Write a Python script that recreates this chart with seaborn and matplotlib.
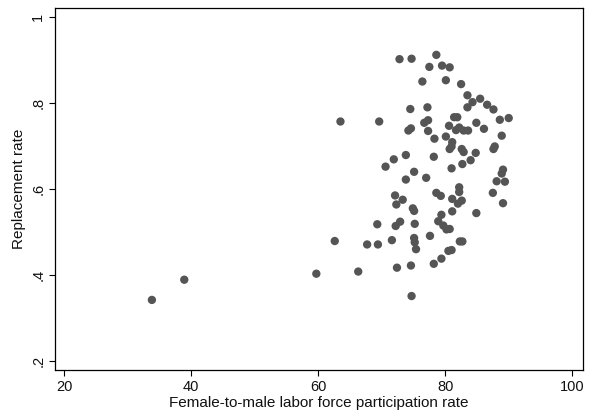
import matplotlib
matplotlib.use("Agg")
import matplotlib.pyplot as plt
import seaborn as sns
import pandas as pd

# Female-to-male labor force participation rate (x) vs replacement rate (y)
participation = [
    33.8, 38.9, 59.7, 62.6, 66.3, 63.5, 67.7, 69.4, 69.6, 69.3,
    70.6, 71.6, 71.9, 72.1, 72.2, 72.3, 72.4, 72.8, 72.9, 73.3,
    73.8, 73.8, 74.2, 74.6, 74.5, 74.7, 74.6, 74.7, 74.9, 75.1,
    75.1, 75.2, 75.1, 75.2, 75.4, 76.4, 76.7, 77.3, 77.3, 77.2,
    77.0, 77.5, 77.6, 78.2, 78.2, 78.3, 78.6, 78.6, 79.3, 78.9,
    79.4, 79.4, 79.5, 79.7, 80.2, 80.7, 80.1, 80.1, 80.6, 80.5,
    81.0, 80.7, 81.0, 81.1, 81.1, 81.1, 81.0, 80.7, 81.4, 81.9,
    81.7, 82.2, 82.9, 83.6, 82.2, 82.2, 82.3, 82.7, 82.5, 82.6,
    82.9, 82.7, 82.6, 82.0, 83.5, 83.5, 84.0, 84.3, 84.9, 84.8,
    84.9, 85.5, 86.1, 86.6, 87.6, 87.6, 87.8, 88.6, 88.9, 89.1,
    88.9, 88.1, 89.4, 87.5, 89.1, 90.0,
]
replacement = [
    0.341, 0.388, 0.402, 0.478, 0.407, 0.756, 0.470, 0.470, 0.756, 0.517,
    0.651, 0.480, 0.668, 0.584, 0.513, 0.563, 0.416, 0.901, 0.523, 0.574,
    0.678, 0.621, 0.735, 0.740, 0.785, 0.902, 0.421, 0.350, 0.554, 0.548,
    0.639, 0.518, 0.485, 0.475, 0.459, 0.849, 0.753, 0.759, 0.734, 0.789,
    0.625, 0.883, 0.490, 0.674, 0.425, 0.716, 0.911, 0.590, 0.583, 0.524,
    0.539, 0.437, 0.886, 0.514, 0.505, 0.506, 0.721, 0.852, 0.746, 0.455,
    0.457, 0.882, 0.647, 0.576, 0.547, 0.708, 0.698, 0.692, 0.766, 0.766,
    0.736, 0.742, 0.735, 0.735, 0.603, 0.592, 0.477, 0.477, 0.843, 0.692,
    0.685, 0.657, 0.572, 0.565, 0.817, 0.789, 0.666, 0.801, 0.753, 0.683,
    0.543, 0.809, 0.739, 0.795, 0.784, 0.692, 0.698, 0.760, 0.723, 0.644,
    0.635, 0.617, 0.616, 0.590, 0.566, 0.764,
]

x_ticks = [20, 40, 60, 80, 100]
y_ticks = [0.2, 0.4, 0.6, 0.8, 1.0]
y_tick_labels = [".2", ".4", ".6", ".8", "1"]

df = pd.DataFrame({"participation": participation, "replacement": replacement})

sns.set_style("white")
plt.rcParams["font.family"] = ["Liberation Sans", "DejaVu Sans"]

fig = plt.figure(figsize=(5.95, 4.13), dpi=100)
ax = fig.add_axes([55 / 595, 43 / 413, 528 / 595, 362 / 413])

sns.scatterplot(data=df, x="participation", y="replacement", ax=ax,
                color="#555555", s=36, edgecolor="none", linewidth=0)

ax.set_xlim(18.54, 101.7)
ax.set_ylim(0.178, 1.020)
ax.set_xticks(x_ticks)
ax.set_xticklabels([str(t) for t in x_ticks])
ax.set_yticks(y_ticks)
ax.set_yticklabels(y_tick_labels, rotation=90, va="center")

ax.tick_params(axis="both", direction="out", length=4, width=0.8,
               color="black", labelsize=10.5, pad=3, labelcolor="#111111")
ax.tick_params(axis="x", bottom=True)
ax.tick_params(axis="y", left=True)

for side in ax.spines.values():
    side.set_color("black")
    side.set_linewidth(0.9)

ax.set_xlabel("Female-to-male labor force participation rate", fontsize=11,
              color="#111111", labelpad=2)
ax.set_ylabel("Replacement rate", fontsize=11, color="#111111", labelpad=4)

fig.savefig("out.png", dpi=100, facecolor="white")
